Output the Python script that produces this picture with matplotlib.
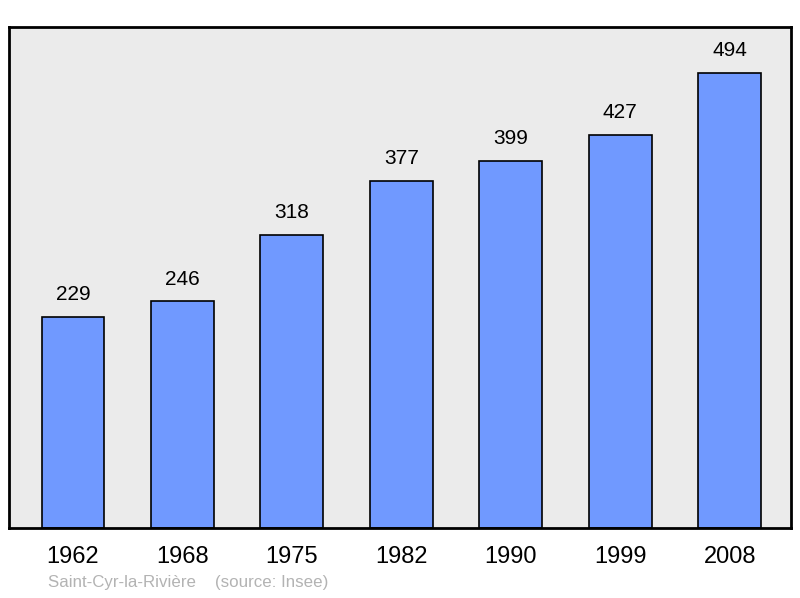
import matplotlib.pyplot as plt

plt.rcParams['font.family'] = ['Liberation Sans', 'DejaVu Sans']

annees = ['1962', '1968', '1975', '1982', '1990', '1999', '2008']
population = [229, 246, 318, 377, 399, 427, 494]

fig = plt.figure(figsize=(8, 5.98), dpi=100)
ax = fig.add_axes([9 / 800, 1 - 528 / 598, 782 / 800, 501 / 598])
ax.set_facecolor('#ebebeb')

x = range(len(annees))
ax.bar(x, population, width=0.575, color='#7099ff', edgecolor='black', linewidth=1.2, zorder=2)
for i, v in zip(x, population):
    ax.text(i, v + 14, str(v), ha='center', va='bottom', fontsize=15)

ax.set_xlim(-0.585, 6.56)
ax.set_ylim(0, 544)
ax.set_yticks([])
ax.set_xticks(list(x))
ax.set_xticklabels(annees, fontsize=17)
ax.tick_params(axis='x', length=0, pad=13)
for s in ax.spines.values():
    s.set_linewidth(2)

fig.text(48 / 800, 1 - 583 / 598, 'Saint-Cyr-la-Rivière    (source: Insee)',
         fontsize=12.2, color='#b3b3b3', va='center')

fig.savefig('out.png', dpi=100)
